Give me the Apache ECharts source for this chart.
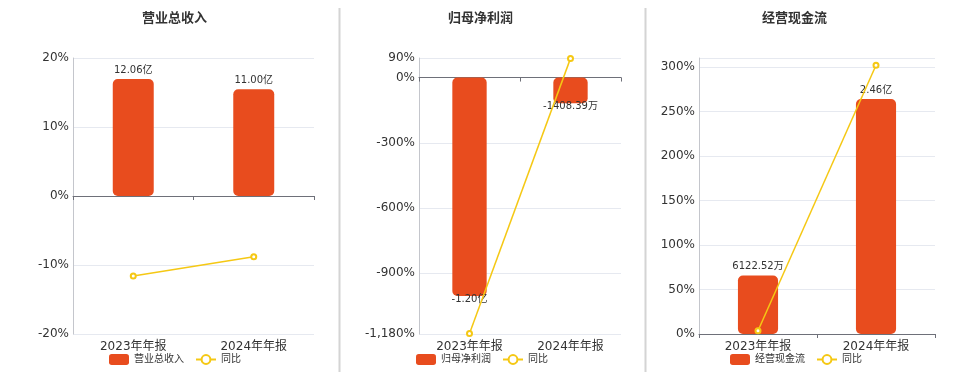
<!DOCTYPE html>
<html><head><meta charset="utf-8">
<script src="https://cdn.jsdelivr.net/npm/echarts@6/dist/echarts.min.js"></script>
<style>html,body{margin:0;padding:0;background:#fff}#c{width:960px;height:372px}</style>
</head><body><div id="c"></div>
<script>
var categories = ['2023年年报', '2024年年报'];
var titles = ['营业总收入', '归母净利润', '经营现金流'];
// values in 万元
var revenue = [120600, 110000];
var revenueYoY = [-11.6, -8.79];
var netProfit = [-12000, -1408.39];
var netProfitYoY = [-1177.5, 88.26];
var cashFlow = [6122.52, 24600];
var cashFlowYoY = [3.7, 301.8];
var yoyName = '同比';
var pctTicks2 = [-1180, -900, -600, -300, 0, 90];

var BAR = '#e84c1e', LINE = '#f5c814', TXT = '#333';
var FONT = "'DejaVu Sans', 'Noto Sans CJK SC', sans-serif";

function fmtMoney(v) {
  var a = Math.abs(v);
  if (a >= 10000) return (v / 10000).toFixed(2) + '亿';
  return v.toFixed(2) + '万';
}

var grids = [
  {left: 73, right: 646, top: 58, bottom: 38},
  {left: 419, right: 339, top: 58, bottom: 38},
  {left: 699, right: 25, top: 58, bottom: 38}
];
var titleLeft = [137, 443, 757];
var legendLeft = [104, 411, 725];

var xAxis = [], yAxis = [], series = [], title = [], legend = [];
var pctAxes = [
  {min: -20, max: 20, interval: 10},
  {min: -1180, max: 90, custom: pctTicks2},
  {min: 0, max: 310, interval: 50, hideMax: true}
];
var barAxes = [
  {min: -142200, max: 142200},
  {min: -14090, max: 1075},
  {min: 0, max: 28890}
];
var bars = [revenue, netProfit, cashFlow];
var lines = [revenueYoY, netProfitYoY, cashFlowYoY];

for (var i = 0; i < 3; i++) {
  title.push({text: titles[i], left: titleLeft[i], top: 7,
    textStyle: {fontSize: 13, fontWeight: 'bold', color: TXT, fontFamily: FONT}});
  legend.push({data: [titles[i], yoyName], left: legendLeft[i], top: 349,
    itemWidth: 20, itemHeight: 11, itemGap: 11,
    textStyle: {fontSize: 10, color: TXT, fontFamily: FONT}});
  xAxis.push({type: 'category', gridIndex: i, data: categories,
    axisLine: {onZero: true, lineStyle: {color: '#6e7079', width: 1}},
    axisTick: {show: true, length: 4, lineStyle: {color: '#6e7079'}},
    axisLabel: {show: false}, splitLine: {show: false}});
  xAxis.push({type: 'category', gridIndex: i, data: categories, position: 'bottom',
    axisLine: {show: false, onZero: false}, axisTick: {show: false},
    axisLabel: {show: true, fontSize: 12, color: TXT, margin: 7, fontFamily: FONT}});
  var pa = pctAxes[i];
  var ya = {type: 'value', gridIndex: i, min: pa.min, max: pa.max,
    axisLine: {show: true, lineStyle: {color: '#c4c6cc'}},
    axisTick: {show: false},
    axisLabel: {formatter: '{value}%', fontSize: 12, color: TXT, margin: 4, fontFamily: FONT,
      showMaxLabel: pa.hideMax ? false : true},
    splitLine: {show: true, lineStyle: {color: '#e6e9f0'}}};
  if (pa.interval) ya.interval = pa.interval;
  if (pa.custom) {
    ya.axisLabel.customValues = pa.custom;
    ya.axisTick.customValues = pa.custom;
  }
  yAxis.push(ya);
  yAxis.push({type: 'value', gridIndex: i, show: false, min: barAxes[i].min, max: barAxes[i].max,
    splitLine: {show: false}});
  var neg = i === 1;
  series.push({type: 'bar', name: titles[i], xAxisIndex: 2 * i, yAxisIndex: 2 * i + 1,
    data: bars[i], barWidth: '34%', itemStyle: {color: BAR, borderRadius: 5},
    label: {show: true, position: neg ? 'bottom' : 'top', distance: neg ? -2 : 4,
      fontSize: 10, color: TXT, fontFamily: FONT,
      formatter: function (p) { return fmtMoney(p.value); }}});
  series.push({type: 'line', name: yoyName, xAxisIndex: 2 * i, yAxisIndex: 2 * i,
    data: lines[i], symbol: 'emptyCircle', symbolSize: 5, z: 5,
    lineStyle: {color: LINE, width: 1.5}, itemStyle: {color: LINE, borderWidth: 1.5}});
}

var chart = echarts.init(document.getElementById('c'), null, {renderer: 'canvas'});
chart.setOption({
  animation: false,
  textStyle: {fontFamily: FONT},
  title: title, legend: legend, grid: grids, xAxis: xAxis, yAxis: yAxis, series: series,
  graphic: [
    {type: 'line', shape: {x1: 339.5, y1: 8, x2: 339.5, y2: 372}, style: {stroke: '#d4d4d4', lineWidth: 2}},
    {type: 'line', shape: {x1: 645.5, y1: 8, x2: 645.5, y2: 372}, style: {stroke: '#d4d4d4', lineWidth: 2}}
  ]
});
</script></body></html>
